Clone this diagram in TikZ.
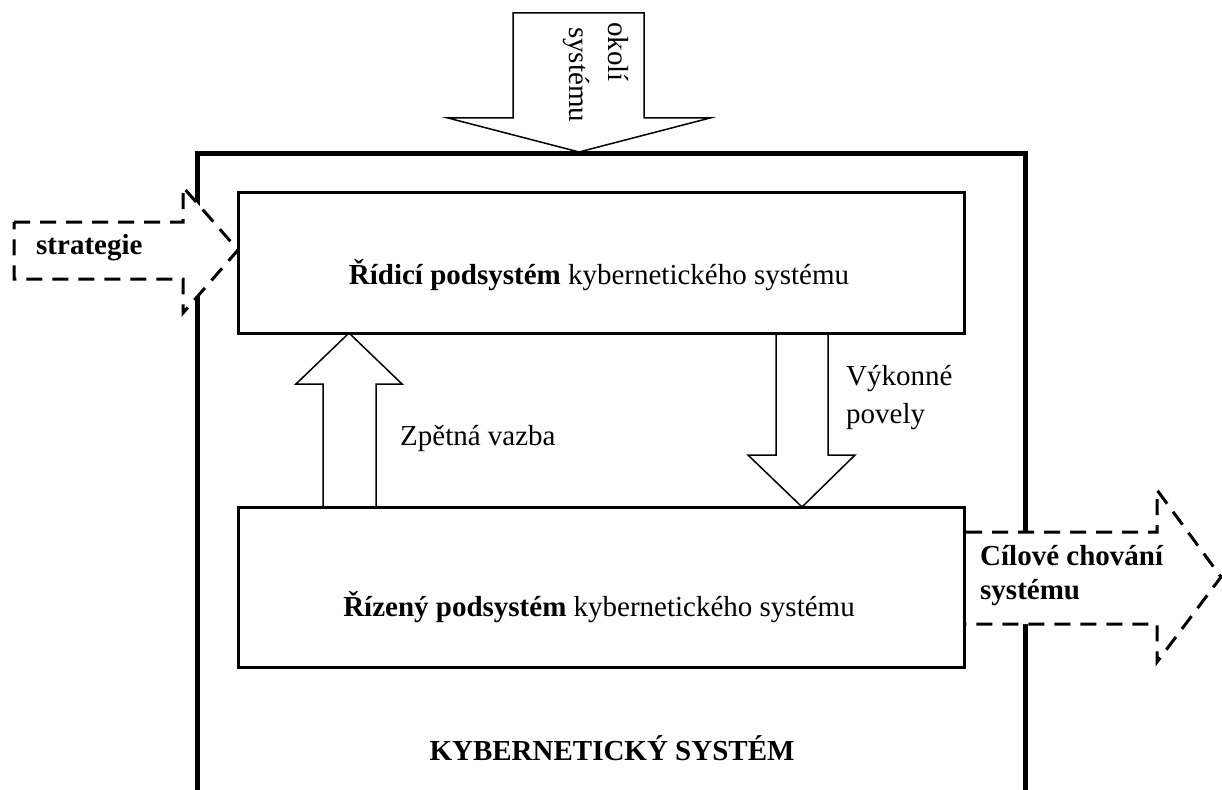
\documentclass[tikz,border=0pt]{standalone}
\usepackage{fontspec}
\setmainfont{Liberation Serif}
\usetikzlibrary{calc}
\begin{document}
\begin{tikzpicture}[x=1pt,y=-1pt,
  lbl/.style={font=\fontsize{29}{35}\selectfont, inner sep=0pt},
  boxlbl/.style={font=\fontsize{29}{35}\selectfont, inner sep=0pt},
  subbox/.style={draw, line width=3pt, minimum width=726pt, inner sep=0pt, outer sep=0pt},
  blockarrow/.style={draw, line width=1.5pt, line join=miter},
  dasharrow/.style={draw, line width=3pt, dash pattern=on 16pt off 10pt, line join=miter}]
\useasboundingbox (0,0) rectangle (1222,789);

% outer system box (open at the bottom)
\coordinate (ksBL) at (197,800);
\coordinate (ksTL) at (197,153);
\coordinate (ksTR) at (1025,153);
\coordinate (ksBR) at (1025,800);
\draw[line width=5pt, line join=miter] (ksBL) -- (ksTL) -- (ksTR) -- (ksBR);

% environment arrow from top
\draw[blockarrow] (513,13) -- (644,13) -- (644,118) -- (710,118) -- (579,152)
  -- (448,118) -- (513,118) -- cycle;
\node[lbl, rotate=-90, anchor=base west] (okoli) at (608,22) {okolí};
\node[lbl, rotate=-90, anchor=base west] (okoli2) at (569,27) {systému};

% subsystems
\node[subbox, minimum height=141pt] (ridici) at (601,262.5) {};
\node[subbox, minimum height=160pt] (rizeny) at (601,587) {};
\node[boxlbl, anchor=base] (ridicitxt) at (599,284) {\textbf{Řídicí podsystém} kybernetického systému};
\node[boxlbl, anchor=base] (rizenytxt) at (599,616) {\textbf{Řízený podsystém} kybernetického systému};

% feedback arrow (up)
\draw[blockarrow] ($(rizeny.north west)+(85,0)$) -- ($(ridici.south west)+(85,51)$)
  -- ($(ridici.south west)+(58,51)$) -- ($(ridici.south west)+(111,0)$)
  -- ($(ridici.south west)+(164,51)$) -- ($(ridici.south west)+(138,51)$)
  -- ($(rizeny.north west)+(138,0)$);
\node[lbl, anchor=base west] (zpetna) at (400,445) {Zpětná vazba};

% command arrow (down)
\draw[blockarrow] ($(ridici.south west)+(538,0)$) -- ($(rizeny.north west)+(538,-52)$)
  -- ($(rizeny.north west)+(510,-52)$) -- ($(rizeny.north west)+(564,0)$)
  -- ($(rizeny.north west)+(617,-52)$) -- ($(rizeny.north west)+(590,-52)$)
  -- ($(ridici.south west)+(590,0)$);
\node[lbl, anchor=base west] (vykonne) at (846,385) {Výkonné};
\node[lbl, anchor=base west] (povely) at (846,423) {povely};

% strategy arrow (dashed, input)
\coordinate (stTip) at ($(ridici.north west)+(0,58)$);
\fill[white] (14,222) -- (183,222) -- (183,187) -- (stTip) -- (183,313) -- (183,279) -- (14,279) -- cycle;
\draw[dasharrow] (14,222) -- (183,222) -- (183,187) -- (stTip) -- (183,313) -- (183,279) -- (14,279) -- cycle;
\node[lbl, anchor=base west] (strat) at (36,254) {\textbf{strategie}};

% goal behaviour arrow (dashed, output)
\coordinate (cbA) at ($(rizeny.north east)+(2,25)$);
\coordinate (cbB) at ($(rizeny.north east)+(2,117)$);
\fill[white] (cbA) -- (1157,532) -- (1157,490) -- (1221,577) -- (1157,662) -- (1157,624) -- (cbB) -- cycle;
\draw[dasharrow] (cbA) -- (1157,532) -- (1157,490) -- (1221,577) -- (1157,662) -- (1157,624) -- (cbB);
\node[lbl, anchor=base west] (cil1) at (980,565) {\textbf{Cílové chování}};
\node[lbl, anchor=base west] (cil2) at (980,599) {\textbf{systému}};

% system label
\node[lbl, anchor=base] (ks) at (612,760) {\textbf{KYBERNETICKÝ SYSTÉM}};
\end{tikzpicture}
\end{document}
